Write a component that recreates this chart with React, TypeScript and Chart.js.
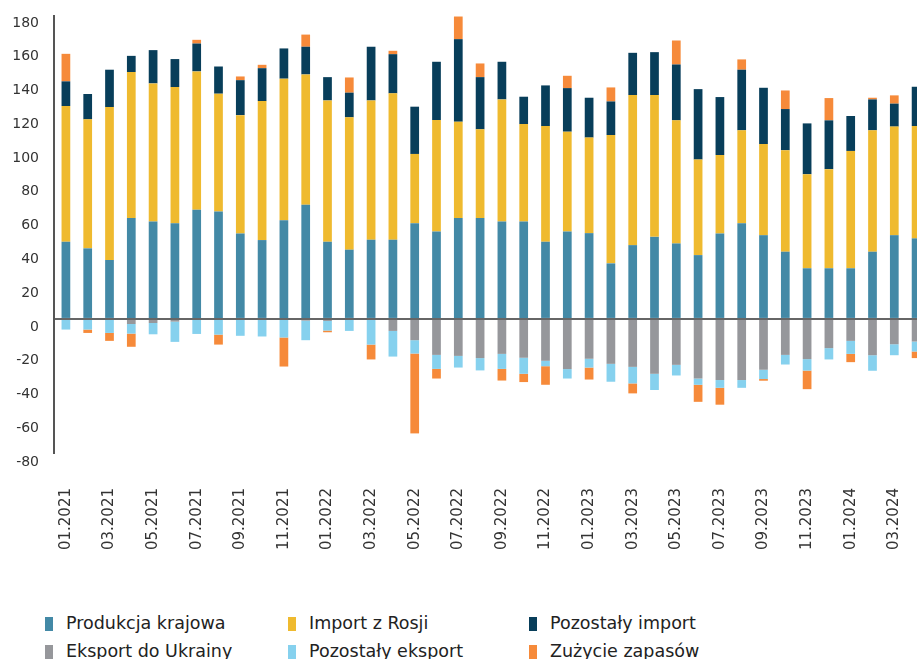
import React, { useEffect, useRef } from "react";
import { Chart, registerables } from "chart.js";

Chart.register(...registerables);

const categories = [
  "01.2021", "02.2021", "03.2021", "04.2021", "05.2021", "06.2021", "07.2021", "08.2021", "09.2021", "10.2021", "11.2021", "12.2021",
  "01.2022", "02.2022", "03.2022", "04.2022", "05.2022", "06.2022", "07.2022", "08.2022", "09.2022", "10.2022", "11.2022", "12.2022",
  "01.2023", "02.2023", "03.2023", "04.2023", "05.2023", "06.2023", "07.2023", "08.2023", "09.2023", "10.2023", "11.2023", "12.2023",
  "01.2024", "02.2024", "03.2024", "04.2024",
];

const produkcjaKrajowa = [
  45.7, 41.8, 34.9, 59.7, 57.7, 56.7, 64.6, 63.6, 50.6, 46.7, 58.5, 67.6,
  45.7, 41.0, 46.9, 46.9, 56.7, 51.8, 59.7, 59.7, 57.7, 57.7, 45.7, 51.8,
  50.8, 32.9, 43.7, 48.6, 44.7, 37.8, 50.6, 56.7, 49.6, 39.8, 30.0, 30.0,
  30.0, 39.8, 49.6, 47.7,
];

const importZRosji = [
  80.4, 76.4, 90.6, 86.5, 81.8, 80.6, 82.0, 69.8, 70.1, 82.3, 83.8, 77.2,
  83.7, 78.4, 82.5, 86.7, 41.0, 66.0, 57.1, 52.6, 72.3, 57.7, 68.5, 59.1,
  56.6, 76.0, 88.9, 84.0, 72.9, 56.6, 46.5, 55.0, 54.0, 60.1, 55.7, 58.7,
  69.5, 71.9, 64.3, 66.5,
];

const pozostalyImport = [
  14.6, 15.0, 22.1, 9.6, 19.7, 16.6, 16.5, 16.1, 20.7, 19.5, 17.9, 16.4,
  13.8, 14.6, 31.8, 23.2, 28.0, 34.5, 48.9, 30.9, 22.3, 16.2, 24.1, 25.8,
  23.6, 19.9, 25.0, 25.4, 33.1, 41.7, 34.3, 35.9, 33.3, 24.4, 30.1, 28.9,
  20.7, 18.3, 13.6, 23.3,
];

const eksportDoUkrainy = [
  0, 0, 0, -3.0, -2.4, -1.6, 0, 0, 0, 0, 0, -1.0,
  -1.2, 0, 0, -7.1, -12.6, -21.3, -21.9, -23.2, -20.7, -23.0, -24.8, -29.7,
  -23.6, -26.6, -28.4, -32.5, -27.2, -35.3, -36.2, -36.2, -30.1, -21.3, -23.8, -17.3,
  -13.0, -21.5, -15.0, -13.4,
];

const pozostalyEksport = [
  -6.3, -6.3, -8.3, -5.7, -6.7, -12.0, -8.9, -9.3, -10.0, -10.4, -11.0, -11.6,
  -5.7, -7.1, -15.2, -15.2, -7.9, -8.3, -6.9, -7.3, -8.9, -9.5, -3.2, -5.6,
  -5.2, -10.6, -9.8, -9.6, -6.3, -3.7, -4.6, -4.6, -5.5, -5.7, -6.8, -6.7,
  -7.7, -9.2, -6.5, -5.9,
];

const zuzycieZapasow = [
  16.3, -2.0, -4.7, -7.8, 0, 0, 2.2, -5.9, 2.2, 2.0, -17.2, 7.2,
  -1.0, 9.0, -8.8, 2.0, -47.3, -5.7, 13.4, 8.1, -6.9, -4.9, -11.0, 7.3,
  -7.1, 8.3, -5.9, 0, 14.2, -10.1, -10.0, 6.1, -1.0, 11.0, -11.0, 13.2,
  -4.9, 1.0, 4.9, -3.9,
];

const seriesNames = [
  "Produkcja krajowa",
  "Import z Rosji",
  "Pozostały import",
  "Eksport do Ukrainy",
  "Pozostały eksport",
  "Zużycie zapasów",
];
const seriesColors = ["#4389A6", "#EFBA2F", "#083E5A", "#96979B", "#86D1EE", "#F68A3A"];
const seriesData = [
  produkcjaKrajowa,
  importZRosji,
  pozostalyImport,
  eksportDoUkrainy,
  pozostalyEksport,
  zuzycieZapasow,
];

const Y_MIN = -80;
const Y_MAX = 180;
const Y_STEP = 20;

const axisLinePlugin = {
  id: "axisLine",
  afterDatasetsDraw(chart: any) {
    const { ctx, chartArea } = chart;
    ctx.save();
    ctx.strokeStyle = "#555555";
    ctx.lineWidth = 2;
    ctx.beginPath();
    ctx.moveTo(chartArea.left - 1, chartArea.top);
    ctx.lineTo(chartArea.left - 1, chartArea.bottom);
    ctx.stroke();
    ctx.restore();
  },
};

export default function App() {
  const ref = useRef<HTMLCanvasElement>(null);

  useEffect(() => {
    const chart = new Chart(ref.current!, {
      type: "bar",
      data: {
        labels: categories,
        datasets: seriesData.map((d, i) => ({
          label: seriesNames[i],
          data: d,
          backgroundColor: seriesColors[i],
          borderWidth: 0,
          barPercentage: 0.4,
          categoryPercentage: 1.0,
        })),
      },
      plugins: [axisLinePlugin],
      options: {
        responsive: false,
        animation: false,
        layout: { padding: { top: 15, left: 0, right: 0, bottom: 0 } },
        plugins: {
          legend: { display: false },
          tooltip: { enabled: false },
        },
        scales: {
          x: {
            stacked: true,
            offset: true,
            grid: { display: false, drawTicks: false },
            border: { display: false },
            afterFit: (s: any) => {
              s.paddingLeft = 0;
              s.paddingRight = 0;
              s.height = 106;
            },
            ticks: {
              autoSkip: false,
              minRotation: 90,
              maxRotation: 90,
              padding: 34,
              color: "#333333",
              font: { family: "'DejaVu Sans'", size: 15 },
              callback: (_v: any, index: number) => (index % 2 === 0 ? categories[index] : ""),
            },
          },
          y: {
            stacked: true,
            min: Y_MIN,
            max: Y_MAX,
            afterFit: (s: any) => {
              s.width = 55;
              s.paddingTop = 0;
              s.paddingBottom = 0;
            },
            grid: {
              drawTicks: false,
              z: 1,
              lineWidth: 2,
              color: (c: any) => (c.tick && c.tick.value === 0 ? "#666666" : "rgba(0,0,0,0)"),
            },
            border: { display: false },
            ticks: {
              stepSize: Y_STEP,
              padding: 16,
              labelOffset: 8,
              color: "#333333",
              font: { family: "'DejaVu Sans'", size: 14 },
            },
          },
        },
      },
    });
    return () => chart.destroy();
  }, []);

  const legendCols = [45, 288, 529];
  const legendRows = [615, 643];

  return (
    <div
      style={{
        position: "fixed",
        left: 0,
        top: 0,
        width: 917,
        height: 659,
        overflow: "hidden",
        background: "#ffffff",
      }}
    >
      <canvas ref={ref} width={927} height={560} style={{ display: "block" }} />
      {seriesNames.map((name, i) => {
        const col = i % 3;
        const row = Math.floor(i / 3);
        const x = legendCols[col];
        const y = legendRows[row];
        return (
          <div key={name}>
            <div
              style={{
                position: "absolute",
                left: x,
                top: y + 2,
                width: 8,
                height: 14,
                background: seriesColors[i],
              }}
            />
            <div
              style={{
                position: "absolute",
                left: x + 21,
                top: y,
                fontFamily: "'DejaVu Sans', sans-serif",
                fontSize: 17.5,
                lineHeight: "17px",
                color: "#222222",
                whiteSpace: "nowrap",
              }}
            >
              {name}
            </div>
          </div>
        );
      })}
    </div>
  );
}
